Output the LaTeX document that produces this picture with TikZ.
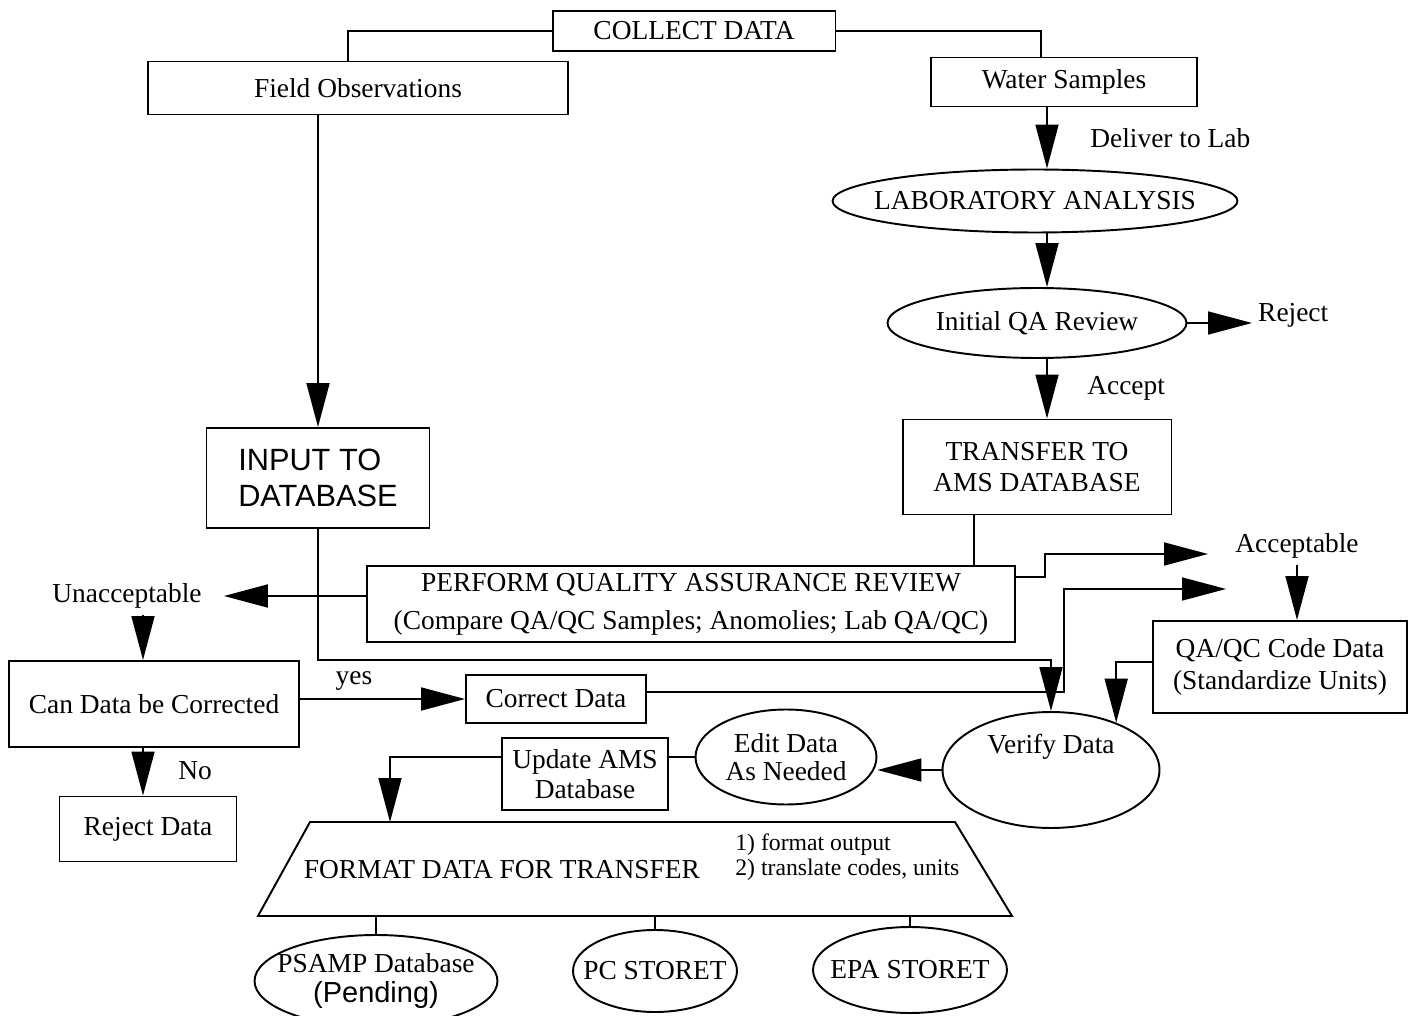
\documentclass[tikz,border=0pt]{standalone}
\usepackage{fontspec}
\setmainfont{Liberation Serif}
\newfontfamily\arialfont{Liberation Sans}
\usetikzlibrary{arrows.meta,shapes.geometric}

\begin{document}
\begin{tikzpicture}
[x=0.02cm,y=-0.02cm,
  lineDecorate/.style={-,line width=1pt},%
  arrowDecorate/.style={-{Triangle[length=0.88cm,width=0.46cm]},line width=1pt},%
  boxDecorate/.style={shape=rectangle,draw,line width=1.1pt,align=center,inner sep=2pt},%
  ovalDecorate/.style={shape=ellipse,draw,line width=1.1pt,inner sep=0pt},%
  trapDecorate/.style={line width=1.1pt},%
  every node/.style={font=\fontsize{15.6}{17.5}\selectfont}]
\useasboundingbox (0,0) rectangle (1417,1016);
%% helper columns
\coordinate (rcol) at (1047,0);
\coordinate (tcol) at (974,0);
\coordinate (lcol) at (143,0);
\coordinate (fcol) at (390,0);
\coordinate (inrow) at (0,660);
\coordinate (accturn) at (1045,554);
\coordinate (acctip) at (1208,554);
\coordinate (corrturn) at (1064,589);
\coordinate (corrtip) at (1226,589);
%% corners of the format block
\coordinate (ftl) at (310,822);
\coordinate (ftr) at (955,822);
\coordinate (fbr) at (1012,916);
\coordinate (fbl) at (258,916);
%% collect
\node (collect) at (694,31) [boxDecorate,minimum width=5.66cm,minimum height=0.8cm] {COLLECT DATA};
\node (field) at (358,88) [boxDecorate,minimum width=8.4cm,minimum height=1.06cm] {Field Observations};
\node (water) at (1064,82) [boxDecorate,minimum width=5.32cm,minimum height=0.98cm] {Water Samples};
%% lab branch
\node (lab) at (1035,201) [ovalDecorate,minimum width=8.1cm,minimum height=1.26cm,
  label={center:LABORATORY ANALYSIS}] {};
\node (qarev) at (1037,323) [ovalDecorate,minimum width=5.98cm,minimum height=1.4cm,
  label={center:Initial QA Review}] {};
\node (transfer) at (1037,467) [boxDecorate,minimum width=5.38cm,minimum height=1.9cm] {TRANSFER TO\\AMS DATABASE};
\node (deliver) at (1090,138) [anchor=west,inner sep=0pt] {Deliver to Lab};
\node (rejectlbl) at (1252,315) [anchor=west] {Reject};
\node (accept) at (1087,388) [anchor=west,inner sep=0pt] {Accept};
%% database and review
\node (input) at (318,478) [boxDecorate,align=left,minimum width=4.46cm,minimum height=2cm,
  font=\arialfont\fontsize{17.5}{20.5}\selectfont] {INPUT TO\\DATABASE};
\node (perform) at (691,604) [boxDecorate,minimum width=12.96cm,minimum height=1.52cm]
  {PERFORM QUALITY ASSURANCE REVIEW\\[4pt](Compare QA/QC Samples; Anomolies; Lab QA/QC)};
\node (unacc) at (127,596) [inner xsep=0.44cm] {Unacceptable};
\node (acceptable) at (1297,546) {Acceptable};
\node (qaqc) at (1280,667) [boxDecorate,minimum width=5.08cm,minimum height=1.84cm] {QA/QC Code Data\\[1pt](Standardize Units)};
%% correction
\node (candata) at (154,704) [boxDecorate,minimum width=5.8cm,minimum height=1.72cm] {Can Data be Corrected};
\node (yes) at (354,681) {yes};
\node (correct) at (556,699) [boxDecorate,minimum width=3.6cm,minimum height=0.96cm] {Correct Data};
\node (no) at (195,771) {No};
\node (reject) at (148,829) [boxDecorate,minimum width=3.54cm,minimum height=1.3cm] {Reject Data};
%% verify and edit
\node (verify) at (1051,770) [ovalDecorate,minimum width=4.34cm,minimum height=2.32cm,
  label={[yshift=0.46cm]center:Verify Data}] {};
\node (edit) at (786,757) [ovalDecorate,minimum width=3.62cm,minimum height=1.9cm,
  label={[align=center,font=\fontsize{15.6}{16}\selectfont]center:Edit Data\\As Needed}] {};
\node (update) at (585,774) [boxDecorate,minimum width=3.32cm,minimum height=1.44cm] {Update AMS\\Database};
%% format and outputs
\draw[trapDecorate] (ftl) -- (ftr) -- (fbr) -- (fbl) -- cycle;
\node (fmttext) at (502,870) {FORMAT DATA FOR TRANSFER};
\node (fmtnote) at (735,857) [anchor=west,align=left,inner sep=0pt,font=\fontsize{13.5}{14.5}\selectfont]
  {1) format output\\2) translate codes, units};
\node (psamp) at (376,981) [ovalDecorate,minimum width=4.86cm,minimum height=1.84cm,
  label={[align=center]center:PSAMP Database\\{\arialfont\fontsize{16.5}{18}\selectfont (Pending)}}] {};
\node (pcstoret) at (655,971) [ovalDecorate,minimum width=3.28cm,minimum height=1.64cm,
  label={center:PC STORET}] {};
\node (epastoret) at (910,970) [ovalDecorate,minimum width=3.88cm,minimum height=1.72cm,
  label={center:EPA STORET}] {};
%% connectors
\draw[lineDecorate] (collect.west) -| ([xshift=-0.2cm]field.north);
\draw[lineDecorate] (collect.east) -| ([xshift=-0.46cm]water.north);
\draw[arrowDecorate] (field.south -| input.north) -- (input.north);
\draw[arrowDecorate] (water.south -| rcol) -- (lab.north -| rcol);
\draw[arrowDecorate] (lab.south -| rcol) -- (qarev.north -| rcol);
\draw[arrowDecorate] (qarev.south -| rcol) -- (transfer.north -| rcol);
\draw[arrowDecorate] (qarev.east) -- (qarev.east -| rejectlbl.west);
\draw[lineDecorate] (transfer.south -| tcol) -- (perform.north -| tcol);
\draw[arrowDecorate] (input.south) -- (input.south |- inrow) -| (verify.north);
\draw[arrowDecorate] (perform.west |- unacc.east) -- (unacc.east);
\draw[arrowDecorate] ([yshift=0.54cm]perform.east) -| (accturn) -- (acctip);
\draw[arrowDecorate] ([yshift=0.14cm]correct.east) -| (corrturn) -- (corrtip);
\draw[arrowDecorate] (acceptable.south) -- (acceptable.south |- qaqc.north);
\draw[arrowDecorate] ([yshift=0.1cm]qaqc.west) -| (verify.36);
\draw[arrowDecorate] (unacc.south -| lcol) -- (candata.north -| lcol);
\draw[arrowDecorate] (candata.east |- correct.west) -- (correct.west);
\draw[arrowDecorate] (candata.south -| lcol) -- (reject.north -| lcol);
\draw[arrowDecorate] (verify.west) -- (edit.east |- verify.west);
\draw[lineDecorate] (edit.west) -- (update.east |- edit.west);
\draw[arrowDecorate] (update.west |- edit.west) -| (fcol |- ftl);
\draw[lineDecorate] (psamp.north |- fbl) -- (psamp.north);
\draw[lineDecorate] (pcstoret.north |- fbl) -- (pcstoret.north);
\draw[lineDecorate] (epastoret.north |- fbl) -- (epastoret.north);
\end{tikzpicture}
\end{document}
